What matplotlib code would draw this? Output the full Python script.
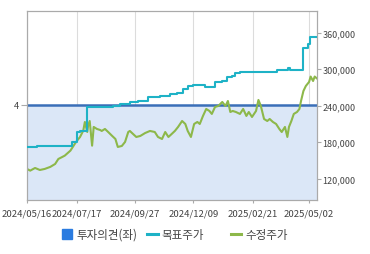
import numpy as np
import pandas as pd
import matplotlib
matplotlib.use("Agg")
from matplotlib import pyplot as plt
from matplotlib.lines import Line2D
from matplotlib.ticker import FuncFormatter

plt.rcParams['font.family'] = ['Noto Sans CJK KR', 'DejaVu Sans']

# 수정주가 (adjusted close)
price_dates = [
    "2024-05-16", "2024-05-20", "2024-05-26", "2024-06-01", "2024-06-07", "2024-06-14",
    "2024-06-20", "2024-06-24", "2024-06-29", "2024-07-02", "2024-07-09", "2024-07-12",
    "2024-07-16", "2024-07-21", "2024-07-25", "2024-07-27", "2024-07-30", "2024-07-31",
    "2024-08-02", "2024-08-05", "2024-08-07", "2024-08-11", "2024-08-15", "2024-08-17",
    "2024-08-21", "2024-08-25", "2024-08-30", "2024-09-03", "2024-09-06", "2024-09-11",
    "2024-09-15", "2024-09-19", "2024-09-21", "2024-09-25", "2024-09-29", "2024-10-04",
    "2024-10-10", "2024-10-16", "2024-10-22", "2024-10-26", "2024-10-31", "2024-11-04",
    "2024-11-08", "2024-11-12", "2024-11-16", "2024-11-20", "2024-11-25", "2024-11-29",
    "2024-12-02", "2024-12-06", "2024-12-10", "2024-12-14", "2024-12-17", "2024-12-21",
    "2024-12-25", "2024-12-29", "2025-01-01", "2025-01-05", "2025-01-09", "2025-01-14",
    "2025-01-18", "2025-01-21", "2025-01-24", "2025-01-27", "2025-01-31", "2025-02-05",
    "2025-02-09", "2025-02-13", "2025-02-16", "2025-02-20", "2025-02-25", "2025-02-28",
    "2025-03-03", "2025-03-07", "2025-03-11", "2025-03-14", "2025-03-18", "2025-03-22",
    "2025-03-26", "2025-03-29", "2025-04-02", "2025-04-05", "2025-04-07", "2025-04-10",
    "2025-04-13", "2025-04-17", "2025-04-20", "2025-04-22", "2025-04-25", "2025-04-28",
    "2025-05-02", "2025-05-04", "2025-05-07", "2025-05-09", "2025-05-12",
]
price_values = [
    135900, 133100, 137500, 134200, 135900, 139300,
    144100, 152300, 155700, 157800, 166000, 172100,
    180300, 188500, 198900, 213200, 196700, 207100,
    214800, 174200, 205000, 201700, 200000, 198400,
    201700, 196700, 190200, 185200, 172100, 173700,
    180300, 196700, 198400, 193400, 188500, 190200,
    195000, 198400, 196700, 188500, 185200, 196700,
    188500, 193400, 198400, 205000, 214800, 209900,
    198400, 188500, 209900, 213200, 209900, 223100,
    234600, 231300, 226400, 237900, 239500, 246100,
    239500, 247700, 229600, 231300, 229600, 226400,
    234600, 223100, 229600, 221400, 231300, 249400,
    239500, 218100, 214800, 218100, 213200, 209900,
    201700, 196700, 205000, 188500, 205000, 214800,
    226400, 229600, 234600, 247700, 264200, 272400,
    279000, 287900, 280600, 287900, 284600,
]

# 목표주가 (target price, stepwise)
target_dates = [
    "2024-05-16", "2024-05-28", "2024-07-11", "2024-07-17", "2024-07-21", "2024-07-30",
    "2024-08-31", "2024-09-09", "2024-09-21", "2024-10-01", "2024-10-14", "2024-10-28",
    "2024-11-10", "2024-11-19", "2024-11-26", "2024-12-02", "2024-12-09", "2024-12-24",
    "2025-01-05", "2025-01-14", "2025-01-20", "2025-01-26", "2025-01-30", "2025-02-05",
    "2025-03-23", "2025-04-06", "2025-04-08", "2025-04-25", "2025-05-01", "2025-05-03",
    "2025-05-12",
]
target_values = [
    172600, 174200, 180300, 196700, 198900, 237400,
    240000, 242800, 245600, 248200, 253800, 256500,
    259200, 261400, 267000, 272400, 273600, 271300,
    279000, 280600, 287200, 288900, 294300, 295900,
    298700, 301500, 298700, 334900, 341500, 352500,
    352500,
]

# 투자의견 (opinion, left axis)
opinion_dates = ["2024-05-16", "2025-05-12"]
opinion_values = [4, 4]

tick_dates = ["2024-05-16", "2024-07-17", "2024-09-27", "2024-12-09", "2025-02-21", "2025-05-02"]
tick_labels = ["2024/05/16", "2024/07/17", "2024/09/27", "2024/12/09", "2025/02/21", "2025/05/02"]
price_ticks = [120000, 180000, 240000, 300000, 360000]

legend_labels = ["투자의견(좌)", "목표주가", "수정주가"]

c_opinion = "#3a6fb8"
c_fill = "#dbe7f7"
c_target = "#1eb2c6"
c_price = "#8db84a"
c_axis = "#aaaaaa"
c_text = "#444444"

p_dates = pd.to_datetime(price_dates)
t_dates = pd.to_datetime(target_dates)
o_dates = pd.to_datetime(opinion_dates)

fig = plt.figure(figsize=(3.7, 2.55), dpi=100)
ax = fig.add_axes([0.073, 0.212, 0.784, 0.741])
ax2 = ax.twinx()

ax.fill_between(o_dates, 0, opinion_values, color=c_fill, lw=0, zorder=1)
ax.plot(o_dates, opinion_values, color=c_opinion, lw=1.8, zorder=3)
ax.set_ylim(0, 7.96)
ax.set_yticks([4])
ax.set_yticklabels(["4"])

ax2.plot(t_dates, target_values, color=c_target, lw=1.5, drawstyle="steps-post", zorder=3)
ax2.plot(p_dates, price_values, color=c_price, lw=1.5, zorder=2)
ax2.set_ylim(84900, 395800)
ax2.set_yticks(price_ticks)
ax2.yaxis.set_major_formatter(FuncFormatter(lambda v, p: f"{int(v):,}"))

ax.set_xlim(pd.Timestamp("2024-05-16"), pd.Timestamp("2025-05-12"))
ax.set_xticks(pd.to_datetime(tick_dates))
ax.set_xticklabels(tick_labels)
ax.grid(axis="x", color="#dcdcdc", lw=0.8, zorder=0)
ax.set_axisbelow(True)

for a in (ax, ax2):
    for s in a.spines.values():
        s.set_color(c_axis)
        s.set_linewidth(0.8)
ax.tick_params(axis="x", length=2, pad=4, labelsize=6.9, colors=c_axis, labelcolor=c_text)
ax.tick_params(axis="y", length=4, pad=1.5, labelsize=6.7, colors=c_axis, labelcolor=c_text)
ax2.tick_params(axis="y", length=3, pad=1.0, labelsize=6.5, colors=c_axis, labelcolor=c_text)

handles = [
    Line2D([], [], marker="s", ls="none", color="#2a7be0", markersize=6.5),
    Line2D([], [], color=c_target, lw=2.2),
    Line2D([], [], color=c_price, lw=2.2),
]
legend_x = [0.168, 0.398, 0.624]
for h, lab, x in zip(handles, legend_labels, legend_x):
    fig.legend(handles=[h], labels=[lab], loc="center left", bbox_to_anchor=(x, 0.078),
               frameon=False, fontsize=8.3, handlelength=0.9, handletextpad=0.35,
               borderpad=0, borderaxespad=0, labelcolor=c_text)

fig.savefig("out.png", dpi=100)
